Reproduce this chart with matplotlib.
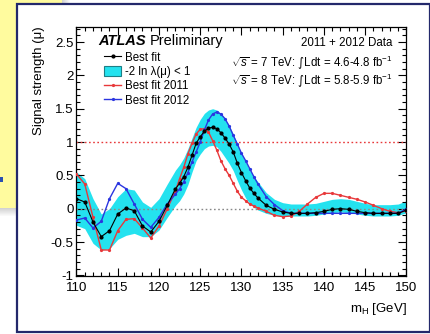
import numpy as np
import matplotlib; matplotlib.use("Agg")
import matplotlib.pyplot as plt
from matplotlib.patches import Rectangle, Patch
from matplotlib.lines import Line2D
from matplotlib.ticker import MultipleLocator, FormatStrFormatter

plt.rcParams['font.family'] = ['Liberation Sans', 'DejaVu Sans']
plt.rcParams['mathtext.fontset'] = 'custom'
plt.rcParams['mathtext.rm'] = 'Liberation Sans'
plt.rcParams['mathtext.it'] = 'Liberation Sans:italic'
plt.rcParams['mathtext.sf'] = 'DejaVu Sans'
plt.rcParams['axes.unicode_minus'] = False

# Higgs mass scan points (GeV)
mass = [110, 111, 112, 113, 114, 115, 116, 117, 118, 119, 120, 121, 122,
        122.5, 123, 123.5, 124, 124.5, 125, 125.5, 126, 126.5, 127, 127.5,
        128, 128.5, 129, 129.5, 130, 130.5, 131, 131.5,
        132, 133, 134, 135, 136, 137, 138, 139, 140, 141, 142, 143, 144,
        145, 146, 147, 148, 149, 150]

mu_best = [0.15, 0.10, -0.20, -0.42, -0.33, -0.08, 0.01, -0.03, -0.26, -0.35, -0.19, 0.05, 0.30,
           0.38, 0.48, 0.62, 0.80, 0.98, 1.08, 1.16, 1.21, 1.22, 1.20, 1.14,
           1.06, 0.97, 0.85, 0.68, 0.54, 0.42, 0.31, 0.23,
           0.16, 0.05, -0.01, -0.05, -0.07, -0.07, -0.07, -0.06, -0.04, -0.01, 0.00, -0.01, -0.04,
           -0.06, -0.07, -0.07, -0.07, -0.07, -0.02]

band_hi = [0.55, 0.45, 0.15, -0.08, 0.00, 0.18, 0.30, 0.28, 0.10, 0.02, 0.15, 0.37, 0.58,
           0.66, 0.76, 0.90, 1.06, 1.22, 1.34, 1.43, 1.48, 1.50, 1.48, 1.43,
           1.35, 1.25, 1.12, 0.97, 0.82, 0.70, 0.58, 0.48,
           0.40, 0.24, 0.14, 0.09, 0.07, 0.07, 0.07, 0.08, 0.11, 0.14, 0.15, 0.14, 0.11,
           0.08, 0.06, 0.06, 0.06, 0.07, 0.12]

band_lo = [-0.25, -0.30, -0.52, -0.62, -0.60, -0.46, -0.40, -0.37, -0.42, -0.42, -0.32, -0.13, 0.05,
           0.12, 0.22, 0.36, 0.55, 0.72, 0.82, 0.90, 0.94, 0.95, 0.93, 0.86,
           0.77, 0.68, 0.57, 0.42, 0.28, 0.16, 0.08, 0.02,
           -0.02, -0.07, -0.10, -0.11, -0.11, -0.11, -0.11, -0.10, -0.08, -0.06, -0.05, -0.06, -0.08,
           -0.10, -0.11, -0.11, -0.11, -0.10, -0.06]

mu_2011 = [0.52, 0.37, -0.13, -0.62, -0.62, -0.33, -0.16, -0.15, -0.29, -0.44, -0.26, 0.00, 0.27,
           0.45, 0.62, 0.82, 0.98, 1.12, 1.19, 1.20, 1.15, 1.02, 0.88, 0.72,
           0.60, 0.50, 0.38, 0.26, 0.17, 0.12, 0.07, 0.04,
           0.01, -0.04, -0.10, -0.12, -0.11, -0.04, 0.07, 0.17, 0.23, 0.23, 0.20, 0.17, 0.14,
           0.10, 0.05, 0.00, -0.04, -0.06, -0.03]

mu_2012 = [-0.17, -0.14, -0.29, -0.19, 0.15, 0.38, 0.30, 0.07, -0.16, -0.28, -0.13, 0.07, 0.22,
           0.30, 0.40, 0.54, 0.70, 0.85, 1.00, 1.18, 1.33, 1.42, 1.45, 1.42,
           1.35, 1.24, 1.10, 0.97, 0.83, 0.72, 0.60, 0.48,
           0.37, 0.18, 0.06, -0.03, -0.07, -0.07, -0.07, -0.07, -0.07, -0.07, -0.07, -0.07, -0.07,
           -0.07, -0.07, -0.07, -0.07, -0.07, 0.00]

CYAN = "#24e2ef"
RED = "#e8383a"
BLUE = "#2b35e0"

W, H = 431, 334
fig = plt.figure(figsize=(W / 100, H / 100), dpi=100)


def px_rect(x0, y0, x1, y1, **kw):
    # rectangle given in pixel coords with top-left origin
    return Rectangle((x0 / W, 1 - y1 / H), (x1 - x0) / W, (y1 - y0) / H,
                     transform=fig.transFigure, **kw)


# slide background: yellow note + shadow + framed white box
fig.patches.append(px_rect(0, 0, 62, 208, facecolor="#fffb9e", edgecolor="none", zorder=-5))
for i in range(8):
    a = 0.35 * (1 - i / 8)
    fig.patches.append(px_rect(0, 208 + i, 62 + i, 209 + i, facecolor="gray", alpha=a,
                               edgecolor="none", zorder=-4))
    fig.patches.append(px_rect(62 + i, 0, 63 + i, 208, facecolor="gray", alpha=a,
                               edgecolor="none", zorder=-4))
fig.patches.append(px_rect(0, 177, 3, 182, facecolor="#2b4fb0", edgecolor="none", zorder=-4))
fig.patches.append(px_rect(17, 4, 430, 332, facecolor="white", edgecolor="#23286b",
                           linewidth=1.6, zorder=-3))

ax = fig.add_axes([76.5 / W, 1 - 276 / H, 330 / W, 249.3 / H])
ax.fill_between(mass, band_lo, band_hi, color=CYAN, lw=0, zorder=1)
ax.axhline(1, color=RED, ls=(0, (1.2, 1.8)), lw=1.0, zorder=2)
ax.axhline(0, color="#888888", ls=(0, (1.2, 1.8)), lw=1.0, zorder=2)
ax.plot(mass, mu_2011, color=RED, lw=1.0, marker="o", ms=1.3, zorder=3)
ax.plot(mass, mu_2012, color=BLUE, lw=1.0, marker="o", ms=1.3, zorder=4)
ax.plot(mass, mu_best, color="black", lw=0.8, marker="o", ms=2.0, zorder=5)

ax.set_xlim(110, 150)
ax.set_ylim(-1.01, 2.73)
ax.xaxis.set_major_locator(MultipleLocator(5))
ax.xaxis.set_minor_locator(MultipleLocator(1))
ax.yaxis.set_major_locator(MultipleLocator(0.5))
ax.yaxis.set_minor_locator(MultipleLocator(0.1))
ax.yaxis.set_major_formatter(FormatStrFormatter('%g'))
ax.tick_params(which="both", direction="in", top=True, right=True, width=0.8)
ax.tick_params(which="major", length=6)
ax.tick_params(which="minor", length=3)
ax.tick_params(axis="x", labelsize=9.5, pad=4)
ax.tick_params(axis="y", labelsize=9.5, pad=2)
for s in ax.spines.values():
    s.set_linewidth(0.9)

ax.set_ylabel("Signal strength (μ)", fontsize=9.5, loc="top")
ax.yaxis.set_label_coords(-0.095, 1.0)
ax.set_xlabel(r"m$_{\rm H}$ [GeV]", fontsize=9.5, loc="right")
ax.xaxis.set_label_coords(1.0, -0.10)

ax.text(0.065, 0.927, "ATLAS", transform=ax.transAxes, fontsize=10.5,
        fontweight="bold", fontstyle="italic", va="baseline")
ax.text(0.222, 0.927, "Preliminary", transform=ax.transAxes, fontsize=10.5, va="baseline")
ax.text(0.958, 0.935, "2011 + 2012 Data", transform=ax.transAxes, fontsize=8.3,
        ha="right", va="center")
ax.text(0.958, 0.858, r"$\sqrt{s}$ = 7 TeV: $\mathsf{\int}$Ldt = 4.6-4.8 fb$^{-1}$",
        transform=ax.transAxes, fontsize=8.3, ha="right", va="center")
ax.text(0.958, 0.786, r"$\sqrt{s}$ = 8 TeV: $\mathsf{\int}$Ldt = 5.8-5.9 fb$^{-1}$",
        transform=ax.transAxes, fontsize=8.3, ha="right", va="center")

handles = [Line2D([], [], color="black", lw=0.8, marker="o", ms=2.0),
           Patch(facecolor=CYAN, edgecolor="#1d7f86", lw=0.8),
           Line2D([], [], color=RED, lw=1.0, marker="o", ms=1.3),
           Line2D([], [], color=BLUE, lw=1.0, marker="o", ms=1.3)]
labels = ["Best fit", "-2 ln λ(μ) < 1", "Best fit 2011", "Best fit 2012"]
ax.legend(handles, labels, loc="upper left", bbox_to_anchor=(0.083, 0.900),
          frameon=False, fontsize=8.3, handlelength=1.5, handleheight=0.9,
          handletextpad=0.3, labelspacing=0.2, borderpad=0, borderaxespad=0)

fig.savefig("out.png", dpi=100)
